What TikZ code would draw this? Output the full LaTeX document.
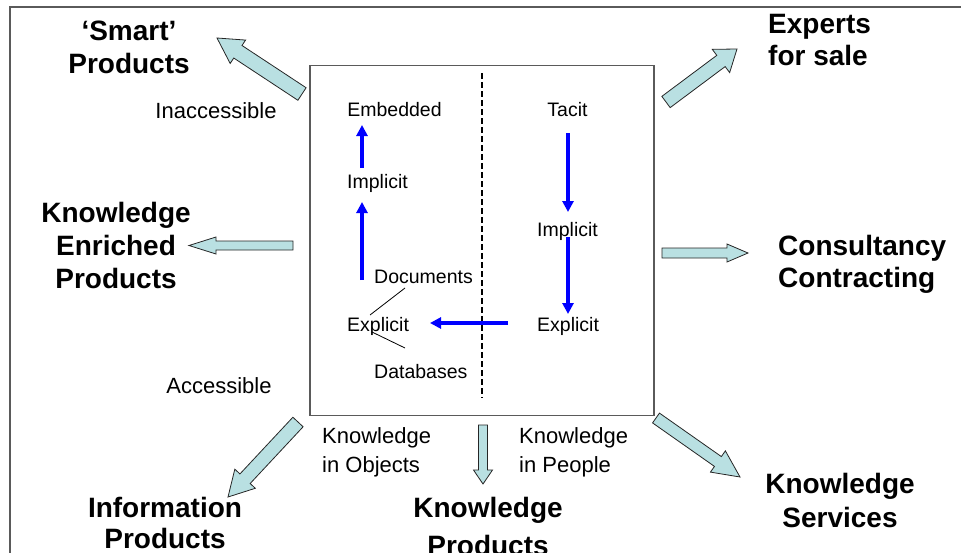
\documentclass[tikz,border=0pt]{standalone}
\usepackage{fontspec}
\setmainfont{Liberation Sans}
\usetikzlibrary{calc,arrows.meta}

\definecolor{framegray}{RGB}{90,90,90}
\definecolor{arrowfill}{RGB}{185,224,226}
\definecolor{flowblue}{RGB}{0,0,255}

% block arrow: tail, tip, shaft half width, head half width, head length
\newcommand\blockarrow[5]{%
  \path ($(#2)!#5!(#1)$) coordinate (ba-h);
  \draw[barrow] ($(#1)!#3!90:(#2)$) -- ($(ba-h)!#3!90:(#2)$) -- ($(ba-h)!#4!90:(#2)$)
    -- (#2) -- ($(ba-h)!#4!-90:(#2)$) -- ($(ba-h)!#3!-90:(#2)$)
    -- ($(#1)!#3!-90:(#2)$) -- cycle;
}

\begin{document}
\begin{tikzpicture}[x=1pt,y=-1pt,
  barrow/.style={fill=arrowfill,draw=black!85,line width=0.8pt,line join=miter},
  bigtext/.style={font=\fontsize{28}{33}\selectfont\bfseries,inner sep=0pt,align=center},
  lbl/.style={font=\fontsize{22}{29}\selectfont,inner sep=0pt,align=left},
  intext/.style={font=\fontsize{19.5}{24}\selectfont,inner sep=0pt},
  flow/.style={draw=flowblue,line width=4pt,-{Triangle[width=11pt,length=11pt]}},
  pointer/.style={draw=black,line width=0.8pt}]
\useasboundingbox (0,0) rectangle (961,552);

% outer frame
\draw[framegray,line width=2pt] (10,560) -- (10,7) -- (970,7);

% central box and divider
\node[draw=framegray,line width=1.5pt,minimum width=344pt,minimum height=350pt,inner sep=0pt]
  (core) at (482,240.5) {};
\draw[black,line width=2pt,dash pattern=on 6pt off 3pt] (482,73) -- (482,398);

% left column: knowledge in objects
\node[intext,anchor=base] (embedded) at (394.5,116) {Embedded};
\node[intext,anchor=base west] (implL) at (347,188) {Implicit};
\node[intext,anchor=base west] (docs) at (374,283) {Documents};
\node[intext,anchor=base west] (explL) at (347,331) {Explicit};
\node[intext,anchor=base west] (dbs) at (374,378) {Databases};

% right column: knowledge in people
\node[intext,anchor=base] (tacit) at (567.5,116) {Tacit};
\node[intext,anchor=base west] (implR) at (537,236) {Implicit};
\node[intext,anchor=base west] (explR) at (537,331) {Explicit};

% flow arrow end points
\coordinate (l1a) at (362,168); \coordinate (l1b) at (362,125);
\coordinate (l2a) at (362,280); \coordinate (l2b) at (362,202);
\coordinate (ha) at (508,323);  \coordinate (hb) at (430,323);
\coordinate (r1a) at (568,133); \coordinate (r1b) at (568,212);
\coordinate (r2a) at (568,237); \coordinate (r2b) at (568,314);
\draw[flow] (l1a) -- (l1b);
\draw[flow] (l2a) -- (l2b);
\draw[flow] (ha) -- (hb);
\draw[flow] (r1a) -- (r1b);
\draw[flow] (r2a) -- (r2b);

% pointers from Explicit to Documents / Databases
\coordinate (pd1) at (405,288); \coordinate (pd2) at (370,315);
\coordinate (pb1) at (372,332); \coordinate (pb2) at (405,348);
\draw[pointer] (pd1) -- (pd2);
\draw[pointer] (pb1) -- (pb2);

% outer labels (multi-line nodes are placed by their last baseline)
\node[lbl,anchor=base] (inacc) at (216,118) {Inaccessible};
\node[lbl,anchor=base] (acc) at (219,393) {Accessible};
\node[lbl,anchor=base west] (kobj) at (322,472) {Knowledge\\in Objects};
\node[lbl,anchor=base west] (kpeople) at (519,472) {Knowledge\\in People};

% strategy labels
\node[bigtext,anchor=base] (smart) at (129,73) {‘Smart’\\Products};
\node[bigtext,anchor=base west,align=left,font=\fontsize{28}{32}\selectfont\bfseries]
  (experts) at (768,65) {Experts\\for sale};
\node[bigtext,anchor=base] (enriched) at (116,288) {Knowledge\\Enriched\\Products};
\node[bigtext,anchor=base west,align=left,font=\fontsize{28}{32}\selectfont\bfseries]
  (consult) at (778,287) {Consultancy\\Contracting};
\node[bigtext,anchor=base,font=\fontsize{28}{31}\selectfont\bfseries]
  (info) at (165,548) {Information\\Products};
\node[bigtext,anchor=base,font=\fontsize{28}{38}\selectfont\bfseries]
  (kprod) at (488,555) {Knowledge\\Products};
\node[bigtext,anchor=base,font=\fontsize{28}{34}\selectfont\bfseries]
  (kserv) at (840,527) {Knowledge\\Services};

% block arrow end points
\coordinate (a1t) at (302,94);  \coordinate (a1h) at (217,38);
\coordinate (a2t) at (666,102); \coordinate (a2h) at (737,49);
\coordinate (a3t) at (293,245.5); \coordinate (a3h) at (189,245.5);
\coordinate (a4t) at (662,253); \coordinate (a4h) at (748,253);
\coordinate (a5t) at (298,422); \coordinate (a5h) at (228,497);
\coordinate (a6t) at (483,425); \coordinate (a6h) at (483,484);
\coordinate (a7t) at (656,418); \coordinate (a7h) at (740,477);

\blockarrow{a1t}{a1h}{7.5pt}{14pt}{25pt}
\blockarrow{a2t}{a2h}{7pt}{14.5pt}{20pt}
\blockarrow{a3t}{a3h}{4.5pt}{8.5pt}{27pt}
\blockarrow{a4t}{a4h}{5pt}{9pt}{21pt}
\blockarrow{a5t}{a5h}{7pt}{14pt}{25pt}
\blockarrow{a6t}{a6h}{4.5pt}{9.5pt}{14pt}
\blockarrow{a7t}{a7h}{6pt}{13pt}{27pt}
\end{tikzpicture}
\end{document}
